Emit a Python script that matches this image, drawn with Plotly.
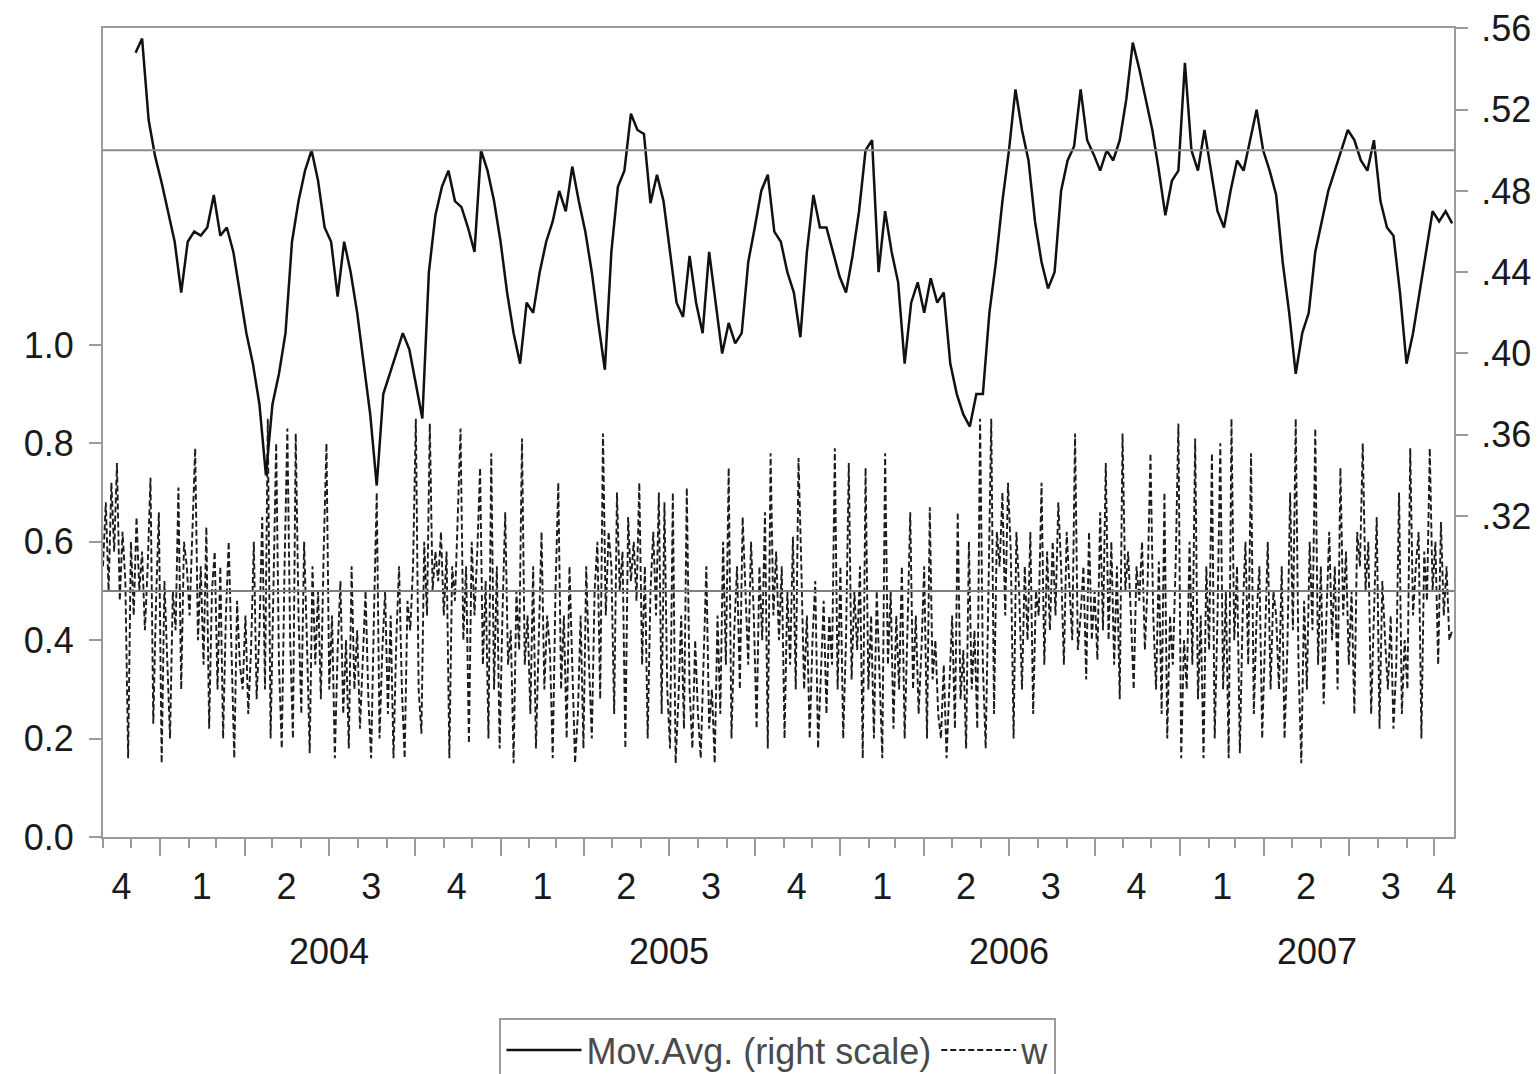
import pandas as pd
import plotly.graph_objects as go

# ---------------- data ----------------
ma_start = "2003-11-01"   # weekly observations of the moving average (right scale)
mov_avg = [
    None, None, None, None, None, .548, .555, .515, .497, .484,
    .470, .455, .430, .455, .460, .458, .462, .478, .458, .462,
    .450, .430, .410, .395, .375, .340, .375, .390, .410, .455,
    .475, .490, .500, .485, .462, .455, .428, .455, .440, .420,
    .395, .370, .335, .380, .390, .400, .410, .402, .385, .368,
    .440, .468, .482, .490, .475, .472, .462, .450, .500, .490,
    .475, .455, .430, .410, .395, .425, .420, .440, .455, .465,
    .480, .470, .492, .475, .460, .440, .415, .392, .450, .482,
    .490, .518, .510, .508, .474, .488, .475, .450, .425, .418,
    .448, .425, .410, .450, .425, .400, .415, .405, .410, .445,
    .462, .480, .488, .460, .455, .440, .430, .408, .450, .478,
    .462, .462, .450, .438, .430, .448, .470, .500, .505, .440,
    .470, .450, .435, .395, .425, .435, .420, .437, .425, .430,
    .395, .380, .370, .364, .380, .380, .420, .445, .475, .500,
    .530, .510, .495, .465, .445, .432, .440, .480, .495, .502,
    .530, .505, .498, .490, .500, .495, .505, .525, .553, .540,
    .525, .510, .490, .468, .485, .490, .543, .500, .490, .510,
    .490, .470, .462, .480, .495, .490, .505, .520, .500, .490,
    .478, .445, .420, .390, .410, .420, .450, .465, .480, .490,
    .500, .510, .505, .495, .490, .505, .475, .462, .458, .430,
    .395, .410, .430, .450, .470, .465, .470, .464,
]

w_start = "2003-11-01"    # w sampled every 3 days (left scale)
w_vals = [
    .55, .68, .50, .72, .58, .76, .48, .62, .52, .16,
    .60, .45, .65, .50, .58, .42, .55, .73, .23, .48,
    .66, .15, .52, .35, .20, .50, .42, .71, .30, .60,
    .55, .45, .62, .79, .40, .55, .35, .63, .22, .50,
    .58, .30, .55, .20, .45, .60, .38, .16, .48, .35,
    .30, .45, .25, .38, .60, .28, .42, .65, .30, .85,
    .20, .50, .80, .35, .18, .55, .83, .40, .20, .82,
    .45, .25, .60, .40, .17, .55, .35, .50, .28, .58,
    .80, .30, .45, .16, .38, .52, .25, .40, .18, .55,
    .30, .42, .22, .36, .50, .28, .16, .45, .70, .20,
    .38, .50, .25, .45, .16, .40, .55, .30, .16, .48,
    .42, .55, .85, .30, .21, .60, .45, .84, .50, .58,
    .52, .62, .45, .58, .16, .55, .48, .65, .83, .40,
    .55, .19, .60, .45, .58, .75, .35, .52, .20, .78,
    .30, .55, .18, .45, .66, .35, .42, .15, .50, .38,
    .81, .35, .45, .25, .55, .18, .40, .62, .30, .45,
    .38, .16, .50, .72, .30, .45, .20, .55, .35, .15,
    .25, .45, .18, .55, .35, .20, .50, .60, .28, .82,
    .45, .62, .55, .25, .70, .50, .58, .18, .65, .52,
    .60, .48, .72, .35, .55, .20, .50, .62, .45, .70,
    .25, .68, .30, .18, .70, .15, .28, .45, .22, .71,
    .30, .18, .40, .25, .16, .35, .55, .22, .30, .15,
    .45, .25, .60, .35, .75, .20, .42, .55, .30, .65,
    .50, .35, .60, .45, .22, .55, .40, .66, .18, .78,
    .45, .58, .40, .55, .20, .50, .35, .61, .30, .77,
    .55, .30, .45, .20, .40, .52, .18, .35, .48, .25,
    .45, .35, .79, .30, .55, .20, .40, .76, .32, .50,
    .38, .55, .16, .75, .30, .45, .20, .50, .35, .16,
    .78, .35, .50, .22, .45, .30, .55, .20, .42, .66,
    .30, .45, .25, .38, .55, .20, .67, .32, .40, .25,
    .20, .35, .16, .30, .45, .22, .66, .28, .38, .18,
    .60, .30, .42, .22, .85, .35, .18, .50, .85, .25,
    .62, .55, .70, .45, .72, .58, .20, .62, .50, .30,
    .55, .40, .62, .25, .50, .45, .72, .35, .58, .42,
    .60, .45, .68, .55, .35, .62, .50, .40, .82, .38,
    .45, .55, .32, .62, .40, .50, .36, .66, .42, .76,
    .40, .60, .35, .55, .28, .82, .50, .58, .45, .30,
    .55, .48, .60, .38, .52, .78, .45, .30, .56, .25,
    .70, .20, .45, .35, .55, .84, .16, .40, .30, .60,
    .35, .81, .28, .45, .16, .55, .38, .78, .20, .45,
    .80, .30, .50, .16, .85, .40, .55, .17, .45, .60,
    .35, .78, .25, .45, .55, .20, .40, .60, .30, .50,
    .45, .30, .55, .20, .38, .70, .42, .85, .35, .15,
    .48, .30, .60, .42, .83, .35, .55, .27, .45, .62,
    .40, .55, .30, .75, .45, .58, .35, .50, .25, .62,
    .55, .80, .50, .60, .25, .48, .65, .22, .52, .40,
    .30, .45, .22, .35, .70, .25, .40, .30, .79, .45,
    .55, .62, .20, .58, .48, .79, .50, .60, .35, .64,
    .45, .55, .40, .42,
]

quarter_labels = ["4", "1", "2", "3", "4", "1", "2", "3", "4",
                  "1", "2", "3", "4", "1", "2", "3", "4"]
year_labels = ["2004", "2005", "2006", "2007"]
left_ticks = [0.0, 0.2, 0.4, 0.6, 0.8, 1.0]
right_ticks = [0.32, 0.36, 0.40, 0.44, 0.48, 0.52, 0.56]
ref_w = 0.5
ref_ma = 0.50

# ---------------- derived positions ----------------
x_range = ["2003-11-01", "2007-10-22"]
ma_dates = pd.date_range(ma_start, periods=len(mov_avg), freq="7D")
w_dates = pd.date_range(w_start, periods=len(w_vals), freq="3D")

q_starts = pd.date_range("2004-01-01", "2007-10-01", freq="QS")
q_mid = [pd.Timestamp("2003-11-21")] + [d + pd.Timedelta(days=45) for d in q_starts[:-1]] \
        + [pd.Timestamp("2007-10-14")]
year_pos = [pd.Timestamp("2004-07-01"), pd.Timestamp("2005-07-01"),
            pd.Timestamp("2006-07-01"), pd.Timestamp("2007-05-28")]

FRAME = "#9a9a9a"
TXT = "#1a1a1a"
SANS = "Liberation Sans, Arial, sans-serif"

fig = go.Figure()

fig.add_trace(go.Scatter(
    x=w_dates, y=w_vals, mode="lines", name="w",
    line=dict(color="#1c1c1c", width=1.9, dash="6px,3px"),
    xaxis="x", yaxis="y", legendrank=2,
))
fig.add_trace(go.Scatter(
    x=ma_dates, y=mov_avg, mode="lines", name="Mov.Avg. (right scale)",
    line=dict(color="#111111", width=2.5),
    xaxis="x", yaxis="y2", connectgaps=False, legendrank=1,
))
# helper trace so the quarter-label axis exists
fig.add_trace(go.Scatter(x=[x_range[0]], y=[None], xaxis="x2", yaxis="y",
                         showlegend=False, hoverinfo="skip"))

shapes = [
    dict(type="line", xref="paper", x0=0, x1=1, yref="y", y0=ref_w, y1=ref_w,
         line=dict(color="#7f7f7f", width=2), layer="above"),
    dict(type="line", xref="paper", x0=0, x1=1, yref="y2", y0=ref_ma, y1=ref_ma,
         line=dict(color="#8a8a8a", width=2), layer="above"),
]

annotations = [
    dict(x=d, y=-0.142, xref="x", yref="paper", text=t, showarrow=False,
         font=dict(family=SANS, size=36, color=TXT), xanchor="center", yanchor="middle")
    for d, t in zip(year_pos, year_labels)
]

fig.update_layout(
    width=1531, height=1066,
    margin=dict(l=95, r=85, t=20, b=237, autoexpand=False),
    paper_bgcolor="white", plot_bgcolor="white",
    showlegend=True,
    legend=dict(orientation="h", x=0.4996, xanchor="center",
                yref="container", y=0.0525, yanchor="top",
                bordercolor=FRAME, borderwidth=2, bgcolor="white",
                font=dict(family=SANS, size=36, color="#4a4a4a"),
                itemwidth=75, traceorder="normal"),
    shapes=shapes,
    annotations=annotations,
    xaxis=dict(type="date", range=x_range, showgrid=False, zeroline=False,
               automargin=False,
               showline=True, linecolor=FRAME, linewidth=2, mirror=True,
               tickvals=list(q_starts), ticks="outside", ticklen=17, tickwidth=2,
               tickcolor=FRAME, showticklabels=False,
               minor=dict(ticks="outside", ticklen=9, tickwidth=2, tickcolor=FRAME,
                          dtick="M1", tick0="2003-11-01", showgrid=False)),
    xaxis2=dict(type="date", range=x_range, overlaying="x", anchor="y", side="bottom",
                automargin=False,
                showgrid=False, zeroline=False, showline=False, ticks="",
                tickvals=q_mid, ticktext=quarter_labels, ticklabelstandoff=25,
                tickfont=dict(family=SANS, size=36, color=TXT)),
    yaxis=dict(range=[0, 1.644], showgrid=False, zeroline=False, automargin=False,
               showline=True, linecolor=FRAME, linewidth=2,
               tickvals=left_ticks, ticktext=[f"{v:.1f}" for v in left_ticks],
               ticks="outside", ticklen=12, tickwidth=2, tickcolor=FRAME,
               ticklabelstandoff=8,
               tickfont=dict(family=SANS, size=36, color=TXT)),
    yaxis2=dict(range=[0.162, 0.5602], overlaying="y", side="right", anchor="x",
                automargin=False,
                showgrid=False, zeroline=False, showline=True, linecolor=FRAME, linewidth=2,
                tickvals=right_ticks, ticktext=[f"{v:.2f}"[1:] for v in right_ticks],
                ticks="outside", ticklen=12, tickwidth=2, tickcolor=FRAME,
                ticklabelstandoff=6,
                tickfont=dict(family=SANS, size=36, color=TXT)),
)

fig.write_html("out.html")
